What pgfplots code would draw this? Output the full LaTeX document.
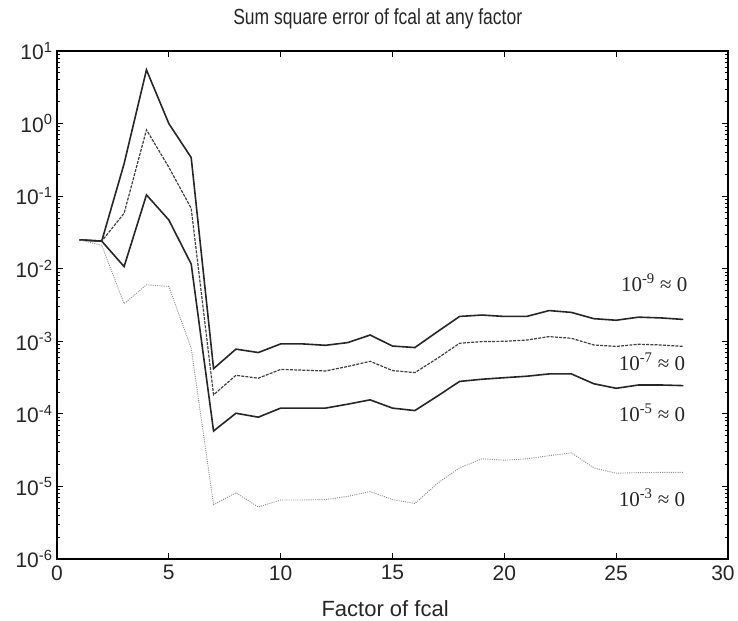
\documentclass[border=0pt]{standalone}
\usepackage{pgfplots}
\pgfplotsset{compat=1.18}
\usepackage{graphicx}
\usepackage{fontspec}
\setmainfont{Liberation Sans}
\newfontfamily\tnr{Liberation Serif}
\begin{document}
\begin{tikzpicture}
\useasboundingbox (-57bp,-62bp) rectangle (681bp,559bp);
\begin{axis}[
  scale only axis, width=671bp, height=508bp,
  xmin=0, xmax=30, ymin=1e-6, ymax=10, ymode=log,
  xtick={0,5,10,15,20,25,30},
  xticklabels={0,5,10,15,20,25,30\hspace*{10bp}},
  ytick={1e-6,1e-5,1e-4,1e-3,1e-2,1e-1,1,10},
  yticklabels={10\textsuperscript{-6},10\textsuperscript{-5},10\textsuperscript{-4},10\textsuperscript{-3},10\textsuperscript{-2},10\textsuperscript{-1},10\textsuperscript{0},10\textsuperscript{1}},
  /pgf/number format/assume math mode=true,
  tick align=inside,
  major tick length=6bp, minor tick length=3.5bp,
  tick style={black, line width=0.8bp},
  axis line style={line width=1.1bp},
  ticklabel style={font=\fontsize{21bp}{21bp}\selectfont, text=black!85},
  xticklabel style={yshift=-3bp},
  yticklabel style={xshift=-1bp},
  clip=false,
]
\addplot[black!85, line width=1.6bp] coordinates {
(1,0.025)(2,0.024)(3,0.28)(4,5.5)(5,1.0)(6,0.34)(7,4.2e-4)(8,7.8e-4)(9,7.0e-4)(10,9.2e-4)
(11,9.2e-4)(12,8.8e-4)(13,9.6e-4)(14,1.22e-3)(15,8.6e-4)(16,8.2e-4)(17,1.35e-3)(18,2.2e-3)
(19,2.3e-3)(20,2.2e-3)(21,2.2e-3)(22,2.65e-3)(23,2.5e-3)(24,2.05e-3)(25,1.95e-3)(26,2.15e-3)
(27,2.1e-3)(28,2.0e-3)};
\addplot[black!75, line width=1.2bp, dash pattern=on 3bp off 1.2bp] coordinates {
(1,0.025)(2,0.024)(3,0.058)(4,0.82)(5,0.25)(6,0.068)(7,1.83e-4)(8,3.4e-4)(9,3.1e-4)(10,4.1e-4)
(11,4.0e-4)(12,3.9e-4)(13,4.5e-4)(14,5.3e-4)(15,3.95e-4)(16,3.7e-4)(17,5.8e-4)(18,9.4e-4)
(19,9.9e-4)(20,1.0e-3)(21,1.04e-3)(22,1.16e-3)(23,1.1e-3)(24,8.9e-4)(25,8.5e-4)(26,9.1e-4)
(27,8.9e-4)(28,8.5e-4)};
\addplot[black!85, line width=1.6bp] coordinates {
(1,0.025)(2,0.024)(3,0.0107)(4,0.104)(5,0.047)(6,0.0116)(7,5.8e-5)(8,1.02e-4)(9,9.0e-5)(10,1.2e-4)
(11,1.2e-4)(12,1.2e-4)(13,1.36e-4)(14,1.56e-4)(15,1.2e-4)(16,1.11e-4)(17,1.75e-4)(18,2.8e-4)
(19,3.0e-4)(20,3.15e-4)(21,3.3e-4)(22,3.55e-4)(23,3.55e-4)(24,2.6e-4)(25,2.25e-4)(26,2.5e-4)
(27,2.5e-4)(28,2.45e-4)};
\addplot[black!45, line width=0.9bp, dash pattern=on 1bp off 1.2bp] coordinates {
(1,0.025)(2,0.021)(3,3.3e-3)(4,6.0e-3)(5,5.7e-3)(6,8e-4)(7,5.6e-6)(8,8.2e-6)(9,5.2e-6)(10,6.5e-6)
(11,6.5e-6)(12,6.6e-6)(13,7.3e-6)(14,8.5e-6)(15,6.6e-6)(16,5.8e-6)(17,1.1e-5)(18,1.8e-5)
(19,2.4e-5)(20,2.3e-5)(21,2.4e-5)(22,2.65e-5)(23,2.9e-5)(24,1.8e-5)(25,1.52e-5)(26,1.55e-5)
(27,1.56e-5)(28,1.56e-5)};
\begin{scope}[every node/.style={font=\tnr\fontsize{21bp}{21bp}\selectfont, text=black!85}]
\node at (axis cs:26.7,6.4e-3) {10\textsuperscript{-9} ≈ 0};
\node at (axis cs:26.6,5.2e-4) {10\textsuperscript{-7} ≈ 0};
\node at (axis cs:26.6,1.03e-4) {10\textsuperscript{-5} ≈ 0};
\node at (axis cs:26.6,7.0e-6) {10\textsuperscript{-3} ≈ 0};
\end{scope}
\node[anchor=base, font=\fontsize{17.5bp}{17.5bp}\selectfont, text=black!85] at (rel axis cs:0.478,1) [yshift=27bp] {\scalebox{1}[1.25]{Sum square error of fcal at any factor}};
\node[anchor=base, font=\fontsize{22bp}{22bp}\selectfont, text=black!85] at (rel axis cs:0.489,0) [yshift=-57bp] {Factor of fcal};
\end{axis}
\end{tikzpicture}
\end{document}
